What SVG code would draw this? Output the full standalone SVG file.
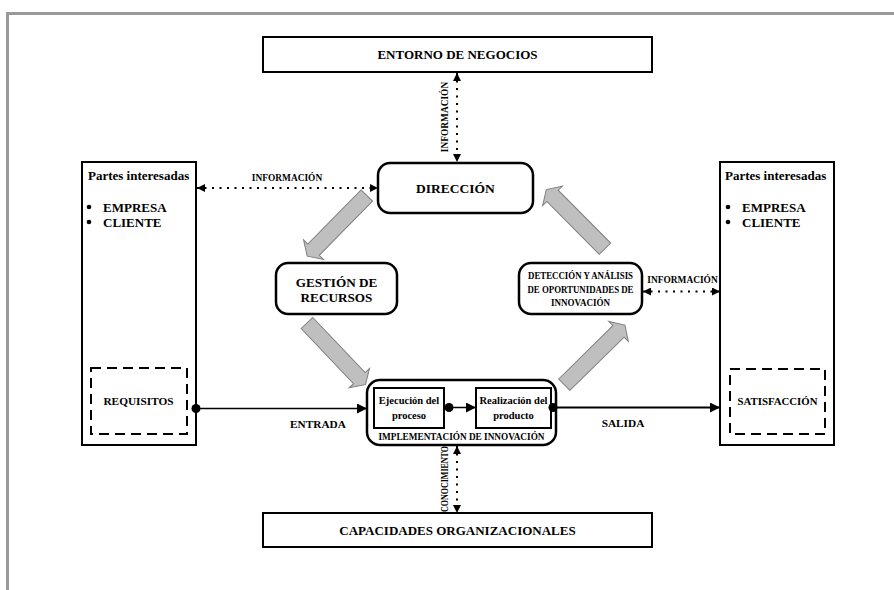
<svg xmlns="http://www.w3.org/2000/svg" width="894" height="590" viewBox="0 0 894 590">
<defs>
<style>
.t{font-family:"Liberation Serif","Times New Roman",serif;font-weight:bold;fill:#000}
.box{fill:#fff;stroke:#000;stroke-width:2}
.rbox{fill:#fff;stroke:#000;stroke-width:2.5}
.dash{fill:none;stroke:#000;stroke-width:2;stroke-dasharray:10 6}
.dot{fill:none;stroke:#000;stroke-width:2;stroke-dasharray:2 5.5}
.solid{fill:none;stroke:#000}
.big{fill:#bfbfbf;stroke:#7f7f7f;stroke-width:1}
</style>
<marker id="ah" viewBox="0 0 10 10" refX="10" refY="5" markerWidth="9" markerHeight="8" markerUnits="userSpaceOnUse" orient="auto-start-reverse">
<path d="M0,0 L10,5 L0,10 Z" fill="#000"/>
</marker>
<marker id="ah2" viewBox="0 0 10 10" refX="10" refY="5" markerWidth="11" markerHeight="10" markerUnits="userSpaceOnUse" orient="auto">
<path d="M0,0 L10,5 L0,10 Z" fill="#000"/>
</marker>
<path id="blk" d="M0,-8 H76 V-14 L85,0 L76,14 V8 H0 Z"/>
</defs>
<rect width="894" height="590" fill="#fff"/>
<g id="frame">
<path d="M7.5,590 V13.5 H894" fill="none" stroke="#999" stroke-width="3"/>
</g>

<g id="entorno">
<rect class="box" x="263" y="37" width="389" height="35"/>
<text class="t" x="457.5" y="59" font-size="13" text-anchor="middle">ENTORNO DE NEGOCIOS</text>
</g>

<g id="capacidades">
<rect class="box" x="263" y="513" width="389" height="34"/>
<text class="t" x="457.5" y="535" font-size="13" text-anchor="middle">CAPACIDADES ORGANIZACIONALES</text>
</g>

<g id="partes-izq">
<rect class="box" x="82" y="162" width="114" height="283"/>
<text class="t" x="88" y="180" font-size="13">Partes interesadas</text>
<circle cx="89" cy="207" r="2.3"/>
<circle cx="89" cy="222" r="2.3"/>
<text class="t" x="103" y="211.5" font-size="13">EMPRESA</text>
<text class="t" x="103" y="226.5" font-size="13">CLIENTE</text>
</g>
<g id="requisitos">
<rect class="dash" x="91" y="368" width="96" height="66"/>
<text class="t" x="138.5" y="405" font-size="11.3" text-anchor="middle">REQUISITOS</text>
</g>

<g id="partes-der">
<rect class="box" x="720" y="162" width="114" height="283"/>
<text class="t" x="725" y="180" font-size="13">Partes interesadas</text>
<circle cx="728" cy="207" r="2.3"/>
<circle cx="728" cy="222" r="2.3"/>
<text class="t" x="742" y="211.5" font-size="13">EMPRESA</text>
<text class="t" x="742" y="226.5" font-size="13">CLIENTE</text>
</g>
<g id="satisfaccion">
<rect class="dash" x="730" y="369" width="95" height="65"/>
<text class="t" x="777.5" y="405" font-size="10.8" text-anchor="middle">SATISFACCIÓN</text>
</g>

<g id="direccion">
<rect class="rbox" x="378" y="163" width="155" height="50" rx="12"/>
<text class="t" x="455.5" y="193" font-size="13.5" text-anchor="middle">DIRECCIÓN</text>
</g>

<g id="gestion">
<rect class="rbox" x="276" y="263" width="121" height="51" rx="12"/>
<text class="t" x="336.5" y="286.5" font-size="13.2" text-anchor="middle">GESTIÓN DE</text>
<text class="t" x="336.5" y="302" font-size="13.2" text-anchor="middle">RECURSOS</text>
</g>

<g id="deteccion">
<rect class="rbox" x="519" y="263" width="123" height="51" rx="12"/>
<text class="t" x="580.5" y="279" font-size="11" text-anchor="middle" textLength="105" lengthAdjust="spacingAndGlyphs">DETECCIÓN Y ANÁLISIS</text>
<text class="t" x="580.5" y="292.5" font-size="11" text-anchor="middle" textLength="106" lengthAdjust="spacingAndGlyphs">DE OPORTUNIDADES DE</text>
<text class="t" x="580.5" y="306" font-size="11" text-anchor="middle" textLength="59" lengthAdjust="spacingAndGlyphs">INNOVACIÓN</text>
</g>

<g id="implementacion">
<rect class="rbox" x="367" y="380" width="189" height="65" rx="13"/>
<text class="t" x="461.5" y="439.5" font-size="9.6" text-anchor="middle" textLength="166" lengthAdjust="spacingAndGlyphs">IMPLEMENTACIÓN DE INNOVACIÓN</text>
</g>
<g id="ejecucion">
<rect class="box" x="374" y="388" width="70" height="40" stroke-width="1.5"/>
<text class="t" x="409" y="404" font-size="10.5" text-anchor="middle">Ejecución del</text>
<text class="t" x="409" y="418.5" font-size="10.5" text-anchor="middle">proceso</text>
</g>
<g id="realizacion">
<rect class="box" x="476" y="388" width="75" height="40" stroke-width="1.5"/>
<text class="t" x="513.5" y="404" font-size="10.5" text-anchor="middle">Realización del</text>
<text class="t" x="513.5" y="418.5" font-size="10.5" text-anchor="middle">producto</text>
</g>

<g id="connectors">
<line class="dot" x1="457" y1="73" x2="457" y2="162" marker-start="url(#ah)" marker-end="url(#ah)"/>
<text class="t" font-size="9.4" text-anchor="middle" transform="translate(448,117) rotate(-90)">INFORMACIÓN</text>

<line class="dot" x1="197" y1="188" x2="378" y2="188" marker-start="url(#ah)" marker-end="url(#ah)"/>
<text class="t" x="287" y="181" font-size="9.4" text-anchor="middle">INFORMACIÓN</text>

<line class="dot" x1="643" y1="291.5" x2="720" y2="291.5" marker-start="url(#ah)" marker-end="url(#ah)"/>
<text class="t" x="682.5" y="283" font-size="9.4" text-anchor="middle">INFORMACIÓN</text>

<line class="dot" x1="457" y1="446" x2="457" y2="513" marker-start="url(#ah)" marker-end="url(#ah)"/>
<text class="t" font-size="9.4" text-anchor="middle" textLength="66" lengthAdjust="spacingAndGlyphs" transform="translate(448,479) rotate(-90)">CONOCIMIENTO</text>

<circle cx="196" cy="408.5" r="4.5"/>
<line class="solid" stroke-width="1.5" x1="196" y1="408.5" x2="367" y2="408.5" marker-end="url(#ah2)"/>
<text class="t" x="318" y="428" font-size="11.3" text-anchor="middle">ENTRADA</text>

<circle cx="449" cy="407.5" r="4.5"/>
<line class="solid" stroke-width="1.5" x1="449" y1="407.5" x2="476" y2="407.5" marker-end="url(#ah2)"/>

<circle cx="553" cy="407.5" r="4.5"/>
<line class="solid" stroke-width="2" x1="553" y1="407.5" x2="720" y2="407.5" marker-end="url(#ah2)"/>
<text class="t" x="623" y="426.5" font-size="11.3" text-anchor="middle">SALIDA</text>

<use href="#blk" class="big" transform="translate(366.8,195.5) rotate(134.5)"/>
<use href="#blk" class="big" transform="translate(307,323) rotate(46.5)"/>
<use href="#blk" class="big" transform="translate(564.3,384.7) rotate(-44.5)"/>
<use href="#blk" class="big" transform="translate(605,248.7) rotate(-134.8) scale(0.98,1)"/>
</g>
</svg>
